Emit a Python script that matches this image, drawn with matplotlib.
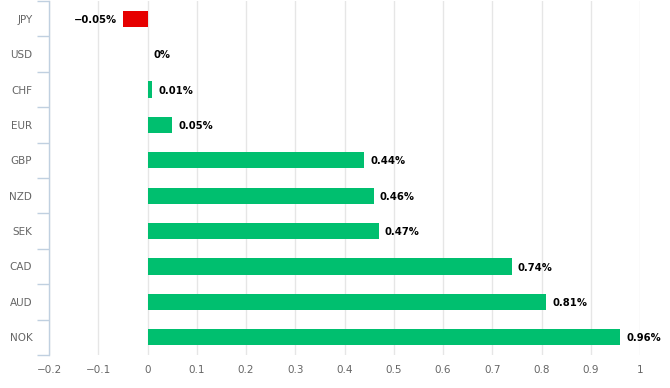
import matplotlib
matplotlib.use("Agg")
import matplotlib.pyplot as plt
import numpy as np

currencies = ["JPY", "USD", "CHF", "EUR", "GBP", "NZD", "SEK", "CAD", "AUD", "NOK"]
values = [-0.05, 0.0, 0.01, 0.05, 0.44, 0.46, 0.47, 0.74, 0.81, 0.96]
labels = ["\u22120.05%", "0%", "0.01%", "0.05%", "0.44%", "0.46%", "0.47%", "0.74%", "0.81%", "0.96%"]
xticks = [-0.2, -0.1, 0, 0.1, 0.2, 0.3, 0.4, 0.5, 0.6, 0.7, 0.8, 0.9, 1]
xticklabels = ["\u22120.2", "\u22120.1", "0", "0.1", "0.2", "0.3", "0.4", "0.5", "0.6", "0.7", "0.8", "0.9", "1"]

fig = plt.figure(figsize=(6.7, 3.88), dpi=100)
ax = fig.add_axes([49/670, 1 - 355/388, (640 - 49)/670, 354/388])

y = np.arange(len(currencies))
colors = ["#e60000" if v < 0 else "#00bf6f" for v in values]
ax.barh(y, values, height=0.46, color=colors, zorder=3)

for yi, v, lab in zip(y, values, labels):
    if v < 0:
        ax.text(v - 0.012, yi + 0.03, lab, ha="right", va="center", fontsize=7.2,
                fontweight="bold", color="#000000")
    else:
        ax.text(v + 0.012, yi + 0.03, lab, ha="left", va="center", fontsize=7.2,
                fontweight="bold", color="#000000")

ax.set_xlim(-0.2, 1.0)
ax.set_ylim(len(currencies) - 0.5, -0.5)
ax.set_xticks(xticks)
ax.set_xticklabels(xticklabels)
ax.set_yticks(y)
ax.set_yticklabels(currencies)
ax.set_yticks(np.arange(-0.5, len(currencies), 1.0), minor=True)

ax.grid(axis="x", color="#e6e6e6", linewidth=1, zorder=0)
ax.grid(axis="y", visible=False)

for s in ["top", "right", "bottom"]:
    ax.spines[s].set_visible(False)
ax.spines["left"].set_color("#c0d0e0")
ax.spines["left"].set_linewidth(1)

ax.tick_params(axis="x", length=0, pad=7, labelsize=7.5, labelcolor="#666666")
ax.tick_params(axis="y", which="major", length=0, pad=12, labelsize=7.5, labelcolor="#666666")
ax.tick_params(axis="y", which="minor", length=9, width=1, color="#c0d0e0")

fig.savefig("out.png", dpi=100)
